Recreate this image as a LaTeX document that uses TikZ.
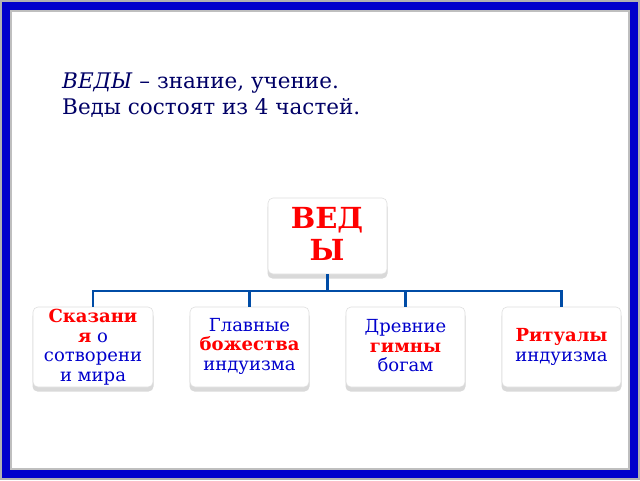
\documentclass[tikz,border=0pt]{standalone}
\usepackage{fontspec}
\setmainfont{DejaVu Serif}
\begin{document}
\begin{tikzpicture}[x=1pt,y=-1pt,
  box/.style={draw=gray!25,line width=0.6pt,fill=white,rounded corners=5pt,align=center,inner sep=0pt},
  lbl/.style={align=center,text=blue!80!black,font=\fontsize{18}{19.5}\selectfont,inner sep=0pt},
  link/.style={draw=blue!50!black!70!cyan,line width=2.2pt}]
\useasboundingbox (0,0) rectangle (640,480);
\fill[gray!60] (0,0) rectangle (640,480);
\fill[blue!80!black] (2,2) rectangle (638,478);
\fill[gray!50] (10,10) rectangle (630,470);
\fill[white] (12,12) rectangle (628,468);
\node[anchor=base west,inner sep=0pt,text=blue!40!black,font=\fontsize{21.5}{24}\selectfont] (t1) at (62,88) {\textit{ВЕДЫ} – знание, учение.};
\node[anchor=base west,inner sep=0pt,text=blue!40!black,font=\fontsize{21.5}{24}\selectfont] (t2) at (62,114) {Веды состоят из 4 частей.};
% shadows
\foreach \a/\b/\c/\d in {268/198/387/274,33/307/153/387,190/307/309/387,346/307/465/387,502/307/621/387}{
  \fill[gray!45,rounded corners=5pt] (\a,\b+3) rectangle (\c,\d+3);
  \fill[gray!30,rounded corners=5pt] (\a-0.5,\b+4.5) rectangle (\c+0.5,\d+4.5);
}
\node[box,minimum width=119pt,minimum height=76pt] (root) at (327.5,236) {};
\node[box,minimum width=120pt,minimum height=80pt] (c1) at (93,347) {};
\node[box,minimum width=119pt,minimum height=80pt] (c2) at (249.5,347) {};
\node[box,minimum width=119pt,minimum height=80pt] (c3) at (405.5,347) {};
\node[box,minimum width=119pt,minimum height=80pt] (c4) at (561.5,347) {};
\node[align=center,text=red,font=\bfseries\fontsize{29}{32}\selectfont] (rt) at (327,234) {ВЕД\\Ы};
\node[lbl] (l1) at (93,347) {\textcolor{red}{\textbf{Сказани}}\\\textcolor{red}{\textbf{я}} о\\сотворени\\и мира};
\node[lbl] (l2) at (249.5,346) {Главные\\\textcolor{red}{\textbf{божества}}\\индуизма};
\node[lbl] (l3) at (405.5,346) {Древние\\\textcolor{red}{\textbf{гимны}}\\богам};
\node[lbl] (l4) at (561.5,347) {\textcolor{red}{\textbf{Ритуалы}}\\индуизма};
\coordinate (j) at (327.5,291);
\draw[link] (root.south) -- (j);
\draw[link] (c1.north) -- (c1.north |- j) -- (c4.north |- j) -- (c4.north);
\draw[link] (c2.north) -- (c2.north |- j);
\draw[link] (c3.north) -- (c3.north |- j);
\end{tikzpicture}
\end{document}
